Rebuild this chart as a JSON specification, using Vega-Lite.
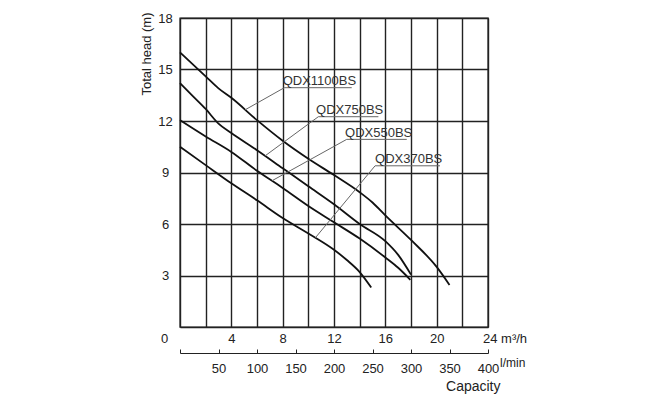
{
  "$schema": "https://vega.github.io/schema/vega-lite/v6.json",
  "width": 308,
  "height": 309,
  "autosize": {"type": "none"},
  "padding": {"left": 180, "top": 18, "right": 180, "bottom": 73},
  "config": {
    "font": "Liberation Sans",
    "view": {"stroke": "#222", "strokeWidth": 1.4},
    "axis": {"labelColor": "#222", "titleColor": "#222", "labelFontSize": 13}
  },
  "datasets": {
    "curves": [
      {"s": "QDX1100BS", "q": 0, "h": 16},
      {"s": "QDX1100BS", "q": 1, "h": 15.3},
      {"s": "QDX1100BS", "q": 2, "h": 14.6},
      {"s": "QDX1100BS", "q": 3, "h": 13.9},
      {"s": "QDX1100BS", "q": 4, "h": 13.35},
      {"s": "QDX1100BS", "q": 6, "h": 12.05},
      {"s": "QDX1100BS", "q": 8, "h": 10.85},
      {"s": "QDX1100BS", "q": 10, "h": 9.8},
      {"s": "QDX1100BS", "q": 12, "h": 8.85},
      {"s": "QDX1100BS", "q": 14, "h": 7.85},
      {"s": "QDX1100BS", "q": 15, "h": 7.25},
      {"s": "QDX1100BS", "q": 16, "h": 6.5},
      {"s": "QDX1100BS", "q": 18, "h": 5.07},
      {"s": "QDX1100BS", "q": 20, "h": 3.5},
      {"s": "QDX1100BS", "q": 21, "h": 2.45},
      {"s": "QDX750BS", "q": 0, "h": 14.2},
      {"s": "QDX750BS", "q": 1, "h": 13.45},
      {"s": "QDX750BS", "q": 2, "h": 12.7},
      {"s": "QDX750BS", "q": 3, "h": 11.85},
      {"s": "QDX750BS", "q": 4, "h": 11.3},
      {"s": "QDX750BS", "q": 6, "h": 10.3},
      {"s": "QDX750BS", "q": 8, "h": 9.25},
      {"s": "QDX750BS", "q": 10, "h": 8.2},
      {"s": "QDX750BS", "q": 12, "h": 7.15},
      {"s": "QDX750BS", "q": 14, "h": 6.0},
      {"s": "QDX750BS", "q": 16, "h": 5.0},
      {"s": "QDX750BS", "q": 17, "h": 4.2},
      {"s": "QDX750BS", "q": 18, "h": 3.05},
      {"s": "QDX550BS", "q": 0, "h": 12.05},
      {"s": "QDX550BS", "q": 2, "h": 11.1},
      {"s": "QDX550BS", "q": 4, "h": 10.2},
      {"s": "QDX550BS", "q": 6, "h": 9.1},
      {"s": "QDX550BS", "q": 8, "h": 8.1},
      {"s": "QDX550BS", "q": 10, "h": 7.05},
      {"s": "QDX550BS", "q": 12, "h": 6.1},
      {"s": "QDX550BS", "q": 14, "h": 5.15},
      {"s": "QDX550BS", "q": 16, "h": 4.05},
      {"s": "QDX550BS", "q": 17, "h": 3.45},
      {"s": "QDX550BS", "q": 17.95, "h": 2.75},
      {"s": "QDX370BS", "q": 0, "h": 10.5},
      {"s": "QDX370BS", "q": 2, "h": 9.43},
      {"s": "QDX370BS", "q": 4, "h": 8.37},
      {"s": "QDX370BS", "q": 6, "h": 7.38},
      {"s": "QDX370BS", "q": 8, "h": 6.35},
      {"s": "QDX370BS", "q": 10, "h": 5.45},
      {"s": "QDX370BS", "q": 12, "h": 4.5},
      {"s": "QDX370BS", "q": 13, "h": 3.9},
      {"s": "QDX370BS", "q": 14, "h": 3.2},
      {"s": "QDX370BS", "q": 14.9, "h": 2.3}
    ],
    "leaders": [
      {"s": "QDX1100BS", "o": 1, "q": 5.07, "h": 12.65},
      {"s": "QDX1100BS", "o": 2, "q": 8.13, "h": 13.94},
      {"s": "QDX1100BS", "o": 3, "q": 13.38, "h": 13.94},
      {"s": "QDX750BS", "o": 1, "q": 6.63, "h": 9.97},
      {"s": "QDX750BS", "o": 2, "q": 10.78, "h": 12.25},
      {"s": "QDX750BS", "o": 3, "q": 15.46, "h": 12.25},
      {"s": "QDX550BS", "o": 1, "q": 7.17, "h": 8.52},
      {"s": "QDX550BS", "o": 2, "q": 12.99, "h": 10.93},
      {"s": "QDX550BS", "o": 3, "q": 17.67, "h": 10.93},
      {"s": "QDX370BS", "o": 1, "q": 10.55, "h": 5.2},
      {"s": "QDX370BS", "o": 2, "q": 15.2, "h": 9.39},
      {"s": "QDX370BS", "o": 3, "q": 20.26, "h": 9.39}
    ],
    "labels": [
      {"s": "QDX1100BS", "q": 8.0, "h": 14.07},
      {"s": "QDX750BS", "q": 10.6, "h": 12.38},
      {"s": "QDX550BS", "q": 12.86, "h": 11.07},
      {"s": "QDX370BS", "q": 15.2, "h": 9.55}
    ]
  },
  "layer": [
    {
      "data": {"name": "curves"},
      "mark": {"type": "line", "interpolate": "monotone", "color": "#111", "strokeWidth": 1.8},
      "encoding": {
        "x": {
          "field": "q", "type": "quantitative",
          "scale": {"domain": [0, 24], "nice": false, "zero": false},
          "axis": {
            "orient": "bottom",
            "values": [0, 2, 4, 6, 8, 10, 12, 14, 16, 18, 20, 22, 24],
            "grid": true, "gridColor": "#222", "gridWidth": 1.4, "gridOpacity": 1,
            "domain": false, "ticks": false,
            "labelExpr": "datum.value == 24 ? '24 m³/h' : (datum.value % 4 == 0 && datum.value > 0 ? datum.label : '')",
            "labelAlign": {"condition": {"test": "datum.value == 24", "value": "left"}, "value": "center"},
            "labelOffset": {"condition": {"test": "datum.value == 24", "value": -5.5}, "value": 0},
            "labelPadding": 5,
            "labelOverlap": false, "labelFlush": false, "labelBound": false,
            "title": null
          }
        },
        "y": {
          "field": "h", "type": "quantitative",
          "scale": {"domain": [0, 18], "nice": false, "zero": false},
          "axis": {
            "values": [0, 1.5, 3, 4.5, 6, 7.5, 9, 10.5, 12, 13.5, 15, 16.5, 18],
            "grid": true, "gridColor": "#222", "gridWidth": 1.4, "gridOpacity": 1,
            "domain": false, "ticks": false,
            "labelExpr": "datum.value % 3 == 0 ? datum.label : ''",
            "labelAlign": "center", "labelBaseline": "middle",
            "labelPadding": {"condition": {"test": "datum.value == 0", "value": 16}, "value": 15},
            "labelOffset": {"condition": {"test": "datum.value == 0", "value": 11}, "value": 0},
            "labelOverlap": false, "labelFlush": false, "labelBound": false,
            "title": "Total head  (m)",
            "titleFontSize": 13, "titleFontWeight": "normal",
            "titleAngle": -90, "titleAlign": "right", "titleBaseline": "alphabetic",
            "titleAnchor": null, "titleX": -30, "titleY": -6
          }
        },
        "detail": {"field": "s", "type": "nominal"}
      }
    },
    {
      "data": {"name": "leaders"},
      "mark": {"type": "line", "color": "#666", "strokeWidth": 1},
      "encoding": {
        "x": {
          "field": "q", "type": "quantitative",
          "axis": {
            "orient": "bottom", "offset": 26,
            "values": [0, 3, 6, 9, 12, 15, 18, 21, 24],
            "labelExpr": "datum.value == 0 ? '' : format(round(datum.value * 50 / 3), 'd')",
            "grid": false,
            "domain": true, "domainColor": "#222", "domainWidth": 1,
            "ticks": true, "tickColor": "#222", "tickWidth": 1, "tickSize": -4,
            "labelPadding": 13,
            "labelOverlap": false, "labelFlush": false, "labelBound": false,
            "title": "Capacity", "titleFontSize": 14, "titleFontWeight": "normal",
            "titleAnchor": null, "titleX": 320, "titleY": 37,
            "titleAlign": "right", "titleBaseline": "alphabetic"
          }
        },
        "y": {"field": "h", "type": "quantitative"},
        "detail": {"field": "s", "type": "nominal"},
        "order": {"field": "o", "type": "quantitative"}
      }
    },
    {
      "data": {"name": "labels"},
      "mark": {"type": "text", "align": "left", "baseline": "alphabetic", "fontSize": 13, "color": "#333"},
      "encoding": {
        "x": {"field": "q", "type": "quantitative", "axis": null},
        "y": {"field": "h", "type": "quantitative"},
        "text": {"field": "s", "type": "nominal"}
      }
    },
    {
      "data": {"values": [{}]},
      "mark": {"type": "text", "align": "left", "baseline": "alphabetic", "fontSize": 12, "color": "#222", "dx": 12, "dy": 40},
      "encoding": {
        "x": {"datum": 24, "type": "quantitative", "axis": null},
        "y": {"datum": 0, "type": "quantitative"},
        "text": {"value": "l/min"}
      }
    }
  ],
  "resolve": {"axis": {"x": "independent"}}
}
